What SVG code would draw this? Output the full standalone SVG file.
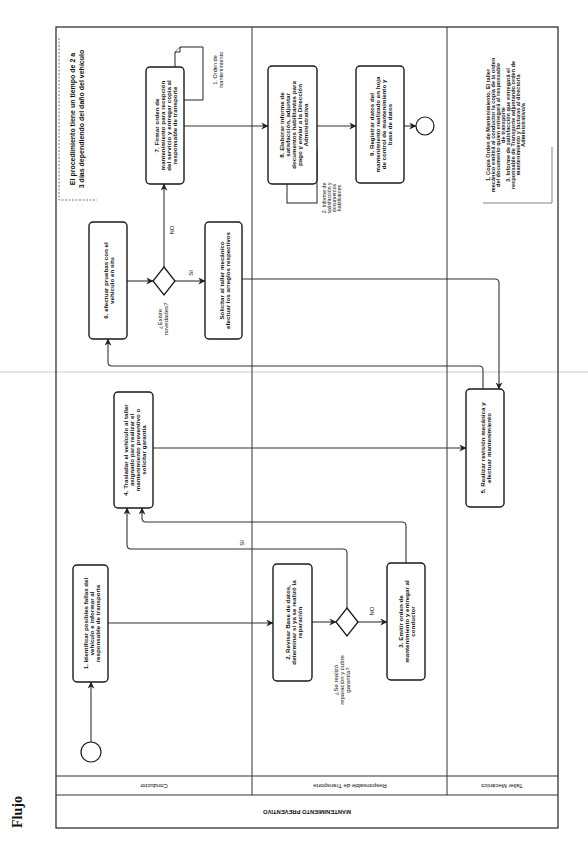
<svg xmlns="http://www.w3.org/2000/svg" width="588" height="855" viewBox="0 0 588 855">
<style>
.frame{fill:none;stroke:#222;stroke-width:1.2}
.lane{fill:none;stroke:#333;stroke-width:1}
.box{fill:#fff;stroke:#1a1a1a;stroke-width:1.4}
.doc{fill:#fff;stroke:#222;stroke-width:1}
.gw{fill:#fff;stroke:#1a1a1a;stroke-width:1.3}
.ev{fill:#fff;stroke:#1a1a1a;stroke-width:1.2}
.conn{fill:none;stroke:#333;stroke-width:1.1;marker-end:url(#arr)}
.ann{fill:none;stroke:#666;stroke-width:0.9;stroke-dasharray:2,1.5}
.t{font-family:"Liberation Sans",Arial,sans-serif;font-size:6.2px;font-weight:bold;fill:#111;text-anchor:middle;dominant-baseline:central}
.s{font-family:"Liberation Sans",Arial,sans-serif;font-size:6px;fill:#111;text-anchor:middle;dominant-baseline:central}
.n{font-family:"Liberation Sans",Arial,sans-serif;font-size:5.6px;font-weight:bold;fill:#222;text-anchor:middle;dominant-baseline:central}
.h{font-family:"Liberation Sans",Arial,sans-serif;font-size:6px;fill:#111;text-anchor:middle;dominant-baseline:central}
</style>
<defs>
<marker id="arr" viewBox="0 0 10 10" refX="9.5" refY="5" markerWidth="7" markerHeight="7" markerUnits="userSpaceOnUse" orient="auto">
<path d="M0,0 L10,5 L0,10 L3,5 Z" fill="#222"/>
</marker>
</defs>
<rect width="588" height="855" fill="#fff"/>
<line x1="0" y1="372" x2="588" y2="372" stroke="#e6e6e6" stroke-width="2"/>
<g id="pool">
<rect class="frame" x="56" y="27" width="502" height="801"/>
<line class="lane" x1="252" y1="27" x2="252" y2="795"/>
<line class="lane" x1="447" y1="27" x2="447" y2="795"/>
<line class="lane" x1="56" y1="776" x2="558" y2="776"/>
<line class="lane" x1="56" y1="795" x2="558" y2="795"/>
<text class="h" transform="translate(154,786) rotate(180)">Conductor</text>
<text class="h" transform="translate(350,786) rotate(180)">Responsable de Transporte</text>
<text class="h" transform="translate(502,786) rotate(180)">Taller Mecánico</text>
<text class="h" style="font-weight:bold;font-size:5.8px" transform="translate(307,812) rotate(180)">MANTENIMIENTO PREVENTIVO</text>
</g>
<text transform="translate(17,812) rotate(-90)" style="font-family:'Liberation Serif','Times New Roman',serif;font-size:14px;font-weight:bold;fill:#111;text-anchor:middle;dominant-baseline:central">Flujo</text>
<g id="connectors">
<path class="conn" d="M91,742 L91,682"/>
<path class="conn" d="M108,623 L273,623"/>
<path class="conn" d="M312,622 L336,622"/>
<path class="conn" d="M358,622 L387,622"/>
<path class="conn" d="M347,608 L347,553 Q347,549 343,549 L131,549 Q127,549 127,545 L127,508"/>
<path class="conn" d="M406,563 L406,526 Q406,522 402,522 L146,522 Q142,522 142,518 L142,508"/>
<path class="conn" d="M153,448 L466,448"/>
<path class="conn" d="M483,389 L483,370 Q483,366 479,366 L112,366 Q108,366 108,362 L108,339"/>
<path class="conn" d="M127,281 L153,281"/>
<path class="conn" d="M175,281 L205,281"/>
<path class="conn" d="M242,279 L495,279 Q499,279 499,283 L499,389"/>
<path class="conn" d="M164,267 L164,184"/>
<path class="conn" d="M184,126 L268,126"/>
<path class="conn" d="M317,126 L356,126"/>
<path class="conn" d="M404,126 L416,126"/>
<text class="s" transform="translate(172,230) rotate(-90)">NO</text>
<text class="s" transform="translate(191,273) rotate(-90)">SI</text>
<text class="s" transform="translate(242,543) rotate(-90)">SI</text>
<text class="s" transform="translate(372,611) rotate(-90)">NO</text>
</g>
<g id="note1">
<path class="ann" d="M59,38 L59,200 L97,200"/>
<text class="t" style="font-size:7px" transform="translate(76,119) rotate(-90)"><tspan x="0" y="-4.5">El procedimiento tiene un tiempo de 2 a</tspan><tspan x="0" y="4.5">3 días dependiendo del daño del vehículo</tspan></text>
</g>
<g id="note2">
<path d="M483,203 L552,203 L552,147" fill="none" stroke="#777" stroke-width="0.9"/>
<text class="n" transform="translate(505.5,125) rotate(-90)"><tspan x="0" y="-17.5">1. Copia Orden de Mantenimiento. El taller</tspan><tspan x="0" y="-12.5">mecánico emitirá al conductor la copia de la orden</tspan><tspan x="0" y="-7.5">del documento quien entregará al responsable</tspan><tspan x="0" y="-2.5">de transporte</tspan><tspan x="0" y="2.5">3. Informe de satisfacción que entregará el</tspan><tspan x="0" y="7.5">responsable de Transporte adjuntando orden de</tspan><tspan x="0" y="12.5">mantenimiento y facturas al director/a</tspan><tspan x="0" y="17.5">Administrativo/a</tspan></text>
</g>
<g id="doc1">
<path class="doc" d="M175,52 L180,47 L203,47 L203,100 L175,100 Z"/>
<path class="doc" d="M175,52 L180,52 L180,47"/>
<text class="s" style="font-size:5.6px" transform="translate(218,70) rotate(-90)"><tspan x="0" y="-3">1. Orden de</tspan><tspan x="0" y="3">mantenimiento</tspan></text>
</g>
<g id="doc2">
<rect class="doc" x="287" y="150" width="30" height="53"/>
<text class="s" style="font-size:5.2px" transform="translate(331,198) rotate(-90)"><tspan x="0" y="-7.5">2. Informe de</tspan><tspan x="0" y="-2.5">satisfacción y</tspan><tspan x="0" y="2.5">documentos</tspan><tspan x="0" y="7.5">habilitantes</tspan></text>
</g>
<g id="start"><circle class="ev" cx="91" cy="752" r="10"/></g>
<g id="end"><circle class="ev" cx="425" cy="126" r="9"/></g>
<g id="n1">
<rect class="box" x="73" y="565" width="35" height="117" rx="4"/>
<text class="t" transform="translate(91,623.5) rotate(-90)"><tspan x="0" y="-6">1. Identificar posibles fallas del</tspan><tspan x="0" y="0">vehículo e informar al</tspan><tspan x="0" y="6">responsable de transporte</tspan></text>
</g>
<g id="n2">
<rect class="box" x="273" y="564" width="39" height="117" rx="4"/>
<text class="t" transform="translate(292.5,622.5) rotate(-90)"><tspan x="0" y="-6">2. Revisar Base de datos,</tspan><tspan x="0" y="0">determinar si ya se realizó la</tspan><tspan x="0" y="6">reparación</tspan></text>
</g>
<g id="gw2">
<polygon class="gw" points="347,608 358,622 347,636 336,622"/>
<text class="s" transform="translate(342,680) rotate(-90)"><tspan x="0" y="-6">¿Se realizó</tspan><tspan x="0" y="0">reparación y cubre</tspan><tspan x="0" y="6">garantía?</tspan></text>
</g>
<g id="n3">
<rect class="box" x="387" y="563" width="38" height="117" rx="4"/>
<text class="t" transform="translate(406,621.5) rotate(-90)"><tspan x="0" y="-6">3. Emitir orden de</tspan><tspan x="0" y="0">mantenimiento y entregar al</tspan><tspan x="0" y="6">conductor</tspan></text>
</g>
<g id="n4">
<rect class="box" x="114" y="392" width="39" height="116" rx="4"/>
<text class="t" transform="translate(133.5,450) rotate(-90)"><tspan x="0" y="-9">4. Trasladar el vehículo al taller</tspan><tspan x="0" y="-3">asignado para realizar el</tspan><tspan x="0" y="3">mantenimiento preventivo o</tspan><tspan x="0" y="9">solicitar garantía</tspan></text>
</g>
<g id="n5">
<rect class="box" x="466" y="389" width="38" height="118" rx="4"/>
<text class="t" transform="translate(485,448) rotate(-90)"><tspan x="0" y="-3">5. Realizar revisión mecánica y</tspan><tspan x="0" y="3">efectuar mantenimiento</tspan></text>
</g>
<g id="n6">
<rect class="box" x="89" y="222" width="38" height="117" rx="4"/>
<text class="t" transform="translate(108,280.5) rotate(-90)"><tspan x="0" y="-3">6. efectuar pruebas con el</tspan><tspan x="0" y="3">vehículo en situ</tspan></text>
</g>
<g id="gw1">
<polygon class="gw" points="164,267 175,281 164,295 153,281"/>
<text class="s" transform="translate(163,319) rotate(-90)"><tspan x="0" y="-3">¿Existe</tspan><tspan x="0" y="3">novedades?</tspan></text>
</g>
<g id="nSol">
<rect class="box" x="205" y="222" width="37" height="117" rx="4"/>
<text class="t" transform="translate(223.5,280.5) rotate(-90)"><tspan x="0" y="-3">Solicitar al taller mecánico</tspan><tspan x="0" y="3">efectuar los arreglos respectivos</tspan></text>
</g>
<g id="n7">
<rect class="box" x="146" y="67" width="38" height="117" rx="4"/>
<text class="t" transform="translate(165,125.5) rotate(-90)"><tspan x="0" y="-9">7. Firmar orden de</tspan><tspan x="0" y="-3">mantenimiento para recepción</tspan><tspan x="0" y="3">del servicio y entregar copia al</tspan><tspan x="0" y="9">responsable de transporte</tspan></text>
</g>
<g id="n8">
<rect class="box" x="268" y="66" width="49" height="118" rx="4"/>
<text class="t" transform="translate(292.5,125) rotate(-90)"><tspan x="0" y="-12">8. Elaborar informe de</tspan><tspan x="0" y="-6">satisfacción, adjuntar</tspan><tspan x="0" y="0">documentos habilitantes para</tspan><tspan x="0" y="6">pago y enviar a la Dirección</tspan><tspan x="0" y="12">Administrativa</tspan></text>
</g>
<g id="n9">
<rect class="box" x="356" y="66" width="48" height="117" rx="4"/>
<text class="t" transform="translate(380,124.5) rotate(-90)"><tspan x="0" y="-9">9. Registrar datos del</tspan><tspan x="0" y="-3">mantenimiento realizado en hoja</tspan><tspan x="0" y="3">de control de mantenimiento y</tspan><tspan x="0" y="9">base de datos</tspan></text>
</g>
</svg>
